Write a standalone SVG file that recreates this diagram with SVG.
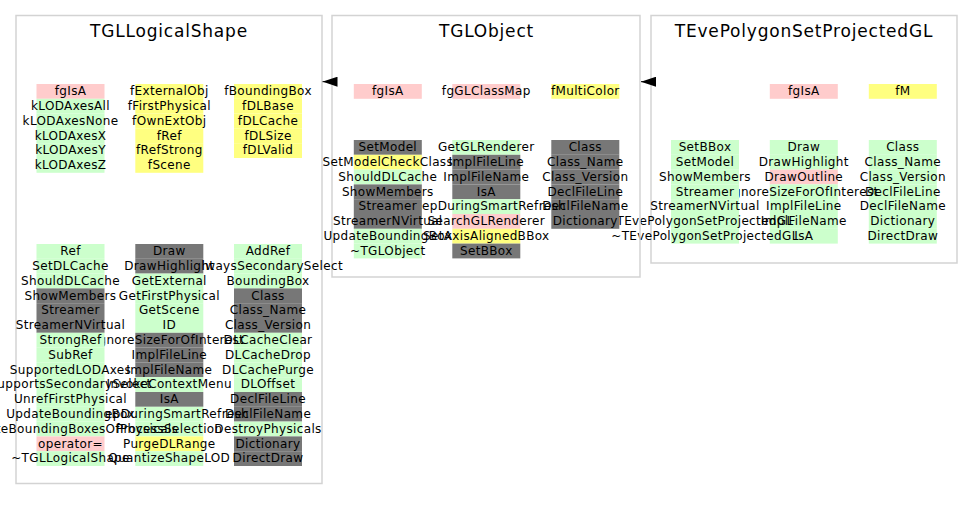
<svg xmlns="http://www.w3.org/2000/svg" width="973" height="512" viewBox="0 0 973 512">
<style>
.frame{fill:none;stroke:#d3d3d3;stroke-width:1.5}
.title{font-family:"DejaVu Sans","Liberation Sans",sans-serif;font-size:17px;letter-spacing:0.8px;text-anchor:middle;fill:#000}
text.m{font-family:"DejaVu Sans","Liberation Sans",sans-serif;font-size:12px;letter-spacing:0.35px;text-anchor:middle;fill:#000}
.g{fill:#ccffcc}.p{fill:#ffcccc}.y{fill:#ffff80}.d{fill:#777777}
rect.c{width:68px;height:14.8px}
</style>
<defs>
<marker id="arr" markerUnits="userSpaceOnUse" markerWidth="15" markerHeight="10" refX="15" refY="5" orient="auto" viewBox="0 0 15 10">
<path d="M0,0 L15,5 L0,10 z" fill="#000"/>
</marker>
</defs>
<rect width="973" height="512" fill="#fff"/>

<g id="TEvePolygonSetProjectedGL">
<rect class="frame" x="651" y="15.5" width="306" height="247.5"/>
<text class="title" x="804" y="36.7">TEvePolygonSetProjectedGL</text>
<rect class="c p" x="769.8" y="84"/><text class="m" x="803.8" y="95.2">fgIsA</text>
<rect class="c y" x="868.8" y="84"/><text class="m" x="902.8" y="95.2">fM</text>
<g>
<rect class="c g" x="868.8" y="140"/><text class="m" x="902.8" y="151.2">Class</text>
<rect class="c g" x="868.8" y="154.8"/><text class="m" x="902.8" y="166">Class_Name</text>
<rect class="c g" x="868.8" y="169.6"/><text class="m" x="902.8" y="180.8">Class_Version</text>
<rect class="c g" x="868.8" y="184.4"/><text class="m" x="902.8" y="195.6">DeclFileLine</text>
<rect class="c g" x="868.8" y="199.2"/><text class="m" x="902.8" y="210.4">DeclFileName</text>
<rect class="c g" x="868.8" y="214"/><text class="m" x="902.8" y="225.2">Dictionary</text>
<rect class="c g" x="868.8" y="228.8"/><text class="m" x="902.8" y="240">DirectDraw</text>
</g>
<g>
<rect class="c g" x="769.8" y="140"/><text class="m" x="803.8" y="151.2">Draw</text>
<rect class="c g" x="769.8" y="154.8"/><text class="m" x="803.8" y="166">DrawHighlight</text>
<rect class="c p" x="769.8" y="169.6"/><text class="m" x="803.8" y="180.8">DrawOutline</text>
<rect class="c g" x="769.8" y="184.4"/><text class="m" x="803.8" y="195.6">IgnoreSizeForOfInterest</text>
<rect class="c g" x="769.8" y="199.2"/><text class="m" x="803.8" y="210.4">ImplFileLine</text>
<rect class="c g" x="769.8" y="214"/><text class="m" x="803.8" y="225.2">ImplFileName</text>
<rect class="c g" x="769.8" y="228.8"/><text class="m" x="803.8" y="240">IsA</text>
</g>
<g>
<rect class="c g" x="671" y="140"/><text class="m" x="705" y="151.2">SetBBox</text>
<rect class="c g" x="671" y="154.8"/><text class="m" x="705" y="166">SetModel</text>
<rect class="c g" x="671" y="169.6"/><text class="m" x="705" y="180.8">ShowMembers</text>
<rect class="c g" x="671" y="184.4"/><text class="m" x="705" y="195.6">Streamer</text>
<rect class="c g" x="671" y="199.2"/><text class="m" x="705" y="210.4">StreamerNVirtual</text>
<rect class="c g" x="671" y="214"/><text class="m" x="705" y="225.2">TEvePolygonSetProjectedGL</text>
<rect class="c g" x="671" y="228.8"/><text class="m" x="705" y="240">~TEvePolygonSetProjectedGL</text>
</g>
</g>

<g id="TGLObject">
<rect class="frame" x="332" y="15.5" width="308" height="261.5"/>
<text class="title" x="486.5" y="36.7">TGLObject</text>
<rect class="c p" x="353.8" y="84"/><text class="m" x="387.8" y="95.2">fgIsA</text>
<rect class="c p" x="452.3" y="84"/><text class="m" x="486.3" y="95.2">fgGLClassMap</text>
<rect class="c y" x="551.3" y="84"/><text class="m" x="585.3" y="95.2">fMultiColor</text>
<g>
<rect class="c d" x="551.3" y="140"/><text class="m" x="585.3" y="151.2">Class</text>
<rect class="c d" x="551.3" y="154.8"/><text class="m" x="585.3" y="166">Class_Name</text>
<rect class="c d" x="551.3" y="169.6"/><text class="m" x="585.3" y="180.8">Class_Version</text>
<rect class="c d" x="551.3" y="184.4"/><text class="m" x="585.3" y="195.6">DeclFileLine</text>
<rect class="c d" x="551.3" y="199.2"/><text class="m" x="585.3" y="210.4">DeclFileName</text>
<rect class="c d" x="551.3" y="214"/><text class="m" x="585.3" y="225.2">Dictionary</text>
</g>
<g>
<rect class="c g" x="452.3" y="140"/><text class="m" x="486.3" y="151.2">GetGLRenderer</text>
<rect class="c d" x="452.3" y="154.8"/><text class="m" x="486.3" y="166">ImplFileLine</text>
<rect class="c d" x="452.3" y="169.6"/><text class="m" x="486.3" y="180.8">ImplFileName</text>
<rect class="c d" x="452.3" y="184.4"/><text class="m" x="486.3" y="195.6">IsA</text>
<rect class="c g" x="452.3" y="199.2"/><text class="m" x="486.3" y="210.4">KeepDuringSmartRefresh</text>
<rect class="c p" x="452.3" y="214"/><text class="m" x="486.3" y="225.2">SearchGLRenderer</text>
<rect class="c y" x="452.3" y="228.8"/><text class="m" x="486.3" y="240">SetAxisAlignedBBox</text>
<rect class="c d" x="452.3" y="243.6"/><text class="m" x="486.3" y="254.8">SetBBox</text>
</g>
<g>
<rect class="c d" x="353.8" y="140"/><text class="m" x="387.8" y="151.2">SetModel</text>
<rect class="c y" x="353.8" y="154.8"/><text class="m" x="387.8" y="166">SetModelCheckClass</text>
<rect class="c g" x="353.8" y="169.6"/><text class="m" x="387.8" y="180.8">ShouldDLCache</text>
<rect class="c d" x="353.8" y="184.4"/><text class="m" x="387.8" y="195.6">ShowMembers</text>
<rect class="c d" x="353.8" y="199.2"/><text class="m" x="387.8" y="210.4">Streamer</text>
<rect class="c d" x="353.8" y="214"/><text class="m" x="387.8" y="225.2">StreamerNVirtual</text>
<rect class="c g" x="353.8" y="228.8"/><text class="m" x="387.8" y="240">UpdateBoundingBox</text>
<rect class="c g" x="353.8" y="243.6"/><text class="m" x="387.8" y="254.8">~TGLObject</text>
</g>
</g>

<g id="TGLLogicalShape">
<rect class="frame" x="16" y="15.5" width="306" height="468"/>
<text class="title" x="169" y="36.7">TGLLogicalShape</text>
<g>
<rect class="c y" x="234" y="84"/><text class="m" x="268" y="95.2">fBoundingBox</text>
<rect class="c y" x="234" y="98.8"/><text class="m" x="268" y="110">fDLBase</text>
<rect class="c y" x="234" y="113.6"/><text class="m" x="268" y="124.8">fDLCache</text>
<rect class="c y" x="234" y="128.4"/><text class="m" x="268" y="139.6">fDLSize</text>
<rect class="c y" x="234" y="143.2"/><text class="m" x="268" y="154.4">fDLValid</text>
</g>
<g>
<rect class="c y" x="135.3" y="84"/><text class="m" x="169.3" y="95.2">fExternalObj</text>
<rect class="c y" x="135.3" y="98.8"/><text class="m" x="169.3" y="110">fFirstPhysical</text>
<rect class="c y" x="135.3" y="113.6"/><text class="m" x="169.3" y="124.8">fOwnExtObj</text>
<rect class="c y" x="135.3" y="128.4"/><text class="m" x="169.3" y="139.6">fRef</text>
<rect class="c y" x="135.3" y="143.2"/><text class="m" x="169.3" y="154.4">fRefStrong</text>
<rect class="c y" x="135.3" y="158"/><text class="m" x="169.3" y="169.2">fScene</text>
</g>
<g>
<rect class="c p" x="36.5" y="84"/><text class="m" x="70.5" y="95.2">fgIsA</text>
<rect class="c g" x="36.5" y="98.8"/><text class="m" x="70.5" y="110">kLODAxesAll</text>
<rect class="c g" x="36.5" y="113.6"/><text class="m" x="70.5" y="124.8">kLODAxesNone</text>
<rect class="c g" x="36.5" y="128.4"/><text class="m" x="70.5" y="139.6">kLODAxesX</text>
<rect class="c g" x="36.5" y="143.2"/><text class="m" x="70.5" y="154.4">kLODAxesY</text>
<rect class="c g" x="36.5" y="158"/><text class="m" x="70.5" y="169.2">kLODAxesZ</text>
</g>
<g>
<rect class="c g" x="234" y="244"/><text class="m" x="268" y="255.2">AddRef</text>
<rect class="c g" x="234" y="258.8"/><text class="m" x="268" y="270">AlwaysSecondarySelect</text>
<rect class="c g" x="234" y="273.6"/><text class="m" x="268" y="284.8">BoundingBox</text>
<rect class="c d" x="234" y="288.4"/><text class="m" x="268" y="299.6">Class</text>
<rect class="c d" x="234" y="303.2"/><text class="m" x="268" y="314.4">Class_Name</text>
<rect class="c d" x="234" y="318"/><text class="m" x="268" y="329.2">Class_Version</text>
<rect class="c g" x="234" y="332.8"/><text class="m" x="268" y="344">DLCacheClear</text>
<rect class="c g" x="234" y="347.6"/><text class="m" x="268" y="358.8">DLCacheDrop</text>
<rect class="c g" x="234" y="362.4"/><text class="m" x="268" y="373.6">DLCachePurge</text>
<rect class="c g" x="234" y="377.2"/><text class="m" x="268" y="388.4">DLOffset</text>
<rect class="c d" x="234" y="392"/><text class="m" x="268" y="403.2">DeclFileLine</text>
<rect class="c d" x="234" y="406.8"/><text class="m" x="268" y="418">DeclFileName</text>
<rect class="c g" x="234" y="421.6"/><text class="m" x="268" y="432.8">DestroyPhysicals</text>
<rect class="c d" x="234" y="436.4"/><text class="m" x="268" y="447.6">Dictionary</text>
<rect class="c d" x="234" y="451.2"/><text class="m" x="268" y="462.4">DirectDraw</text>
</g>
<g>
<rect class="c d" x="135.3" y="244"/><text class="m" x="169.3" y="255.2">Draw</text>
<rect class="c d" x="135.3" y="258.8"/><text class="m" x="169.3" y="270">DrawHighlight</text>
<rect class="c g" x="135.3" y="273.6"/><text class="m" x="169.3" y="284.8">GetExternal</text>
<rect class="c g" x="135.3" y="288.4"/><text class="m" x="169.3" y="299.6">GetFirstPhysical</text>
<rect class="c g" x="135.3" y="303.2"/><text class="m" x="169.3" y="314.4">GetScene</text>
<rect class="c g" x="135.3" y="318"/><text class="m" x="169.3" y="329.2">ID</text>
<rect class="c d" x="135.3" y="332.8"/><text class="m" x="169.3" y="344">IgnoreSizeForOfInterest</text>
<rect class="c d" x="135.3" y="347.6"/><text class="m" x="169.3" y="358.8">ImplFileLine</text>
<rect class="c d" x="135.3" y="362.4"/><text class="m" x="169.3" y="373.6">ImplFileName</text>
<rect class="c g" x="135.3" y="377.2"/><text class="m" x="169.3" y="388.4">InvokeContextMenu</text>
<rect class="c d" x="135.3" y="392"/><text class="m" x="169.3" y="403.2">IsA</text>
<rect class="c g" x="135.3" y="406.8"/><text class="m" x="169.3" y="418">KeepDuringSmartRefresh</text>
<rect class="c g" x="135.3" y="421.6"/><text class="m" x="169.3" y="432.8">ProcessSelection</text>
<rect class="c y" x="135.3" y="436.4"/><text class="m" x="169.3" y="447.6">PurgeDLRange</text>
<rect class="c g" x="135.3" y="451.2"/><text class="m" x="169.3" y="462.4">QuantizeShapeLOD</text>
</g>
<g>
<rect class="c g" x="36.5" y="244"/><text class="m" x="70.5" y="255.2">Ref</text>
<rect class="c g" x="36.5" y="258.8"/><text class="m" x="70.5" y="270">SetDLCache</text>
<rect class="c g" x="36.5" y="273.6"/><text class="m" x="70.5" y="284.8">ShouldDLCache</text>
<rect class="c d" x="36.5" y="288.4"/><text class="m" x="70.5" y="299.6">ShowMembers</text>
<rect class="c d" x="36.5" y="303.2"/><text class="m" x="70.5" y="314.4">Streamer</text>
<rect class="c d" x="36.5" y="318"/><text class="m" x="70.5" y="329.2">StreamerNVirtual</text>
<rect class="c g" x="36.5" y="332.8"/><text class="m" x="70.5" y="344">StrongRef</text>
<rect class="c g" x="36.5" y="347.6"/><text class="m" x="70.5" y="358.8">SubRef</text>
<rect class="c g" x="36.5" y="362.4"/><text class="m" x="70.5" y="373.6">SupportedLODAxes</text>
<rect class="c g" x="36.5" y="377.2"/><text class="m" x="70.5" y="388.4">SupportsSecondarySelect</text>
<rect class="c g" x="36.5" y="392"/><text class="m" x="70.5" y="403.2">UnrefFirstPhysical</text>
<rect class="c g" x="36.5" y="406.8"/><text class="m" x="70.5" y="418">UpdateBoundingBox</text>
<rect class="c g" x="36.5" y="421.6"/><text class="m" x="70.5" y="432.8">UpdateBoundingBoxesOfPhysicals</text>
<rect class="c p" x="36.5" y="436.4"/><text class="m" x="70.5" y="447.6">operator=</text>
<rect class="c g" x="36.5" y="451.2"/><text class="m" x="70.5" y="462.4">~TGLLogicalShape</text>
</g>
</g>

<g id="connectors" fill="none" stroke="#000" stroke-width="1">
<path d="M332,81.7 H322.5" marker-end="url(#arr)"/>
<path d="M650.5,81.7 H641" marker-end="url(#arr)"/>
</g>
</svg>
